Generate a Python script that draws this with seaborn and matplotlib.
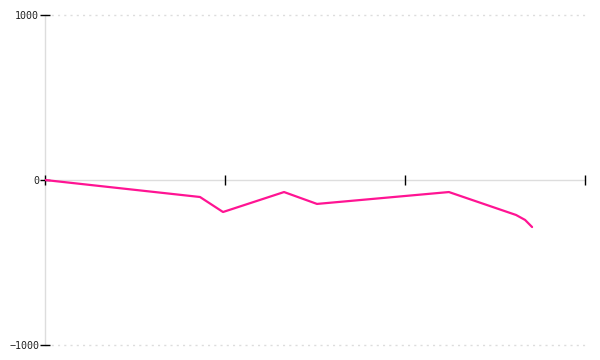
import matplotlib
matplotlib.use("Agg")
import matplotlib.pyplot as plt
import seaborn as sns
import pandas as pd

x_vals = [0.0, 0.861, 0.989, 1.328, 1.511, 2.244, 2.617, 2.667, 2.706]
y_vals = [0, -103, -194, -73, -145, -73, -212, -242, -285]
x_ticks = [0, 1, 2, 3]
y_ticks = [-1000, 0, 1000]

sns.set_style("white")
plt.rcParams['font.family'] = ['DejaVu Sans Mono']

df = pd.DataFrame({"x": x_vals, "y": y_vals})
fig = plt.figure(figsize=(6, 3.6), dpi=100)
ax = fig.add_axes([45/600, 15/360, 540/600, 330/360])
sns.lineplot(data=df, x="x", y="y", color="#ff1493", linewidth=1.6, ax=ax)

ax.set_xlim(0, 3)
ax.set_ylim(-1000, 1000)
ax.set_xticks(x_ticks)
ax.set_xticklabels([])
ax.set_yticks(y_ticks)
ax.set_yticklabels([str(v).replace("-", "\u2212") for v in y_ticks], fontsize=7.2, color="#222222")
ax.set_xlabel("")
ax.set_ylabel("")

for s in ["top", "right"]:
    ax.spines[s].set_visible(False)
ax.spines["left"].set_color("#dddddd")
ax.spines["left"].set_linewidth(1)
ax.spines["bottom"].set_position(("data", 0))
ax.spines["bottom"].set_color("#dddddd")
ax.spines["bottom"].set_linewidth(1)
ax.spines["left"].set_zorder(0.5)
ax.spines["bottom"].set_zorder(0.5)

ax.tick_params(axis="x", bottom=True, direction="inout", length=6.5, width=1, color="black")
ax.tick_params(axis="y", left=True, direction="inout", length=6.5, width=1, color="black", pad=1)

for yv in [1000, -1000]:
    ax.axhline(yv, color="#dddddd", linewidth=1, linestyle=(0, (1.5, 3)), zorder=0, clip_on=False)

fig.savefig("out.png", dpi=100)
